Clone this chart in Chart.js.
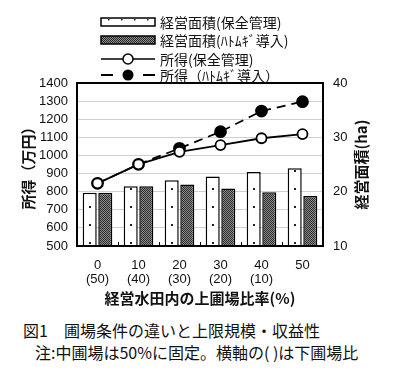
<!DOCTYPE html>
<html>
<head>
<meta charset="utf-8">
<script src="https://cdn.jsdelivr.net/npm/chart.js@4"></script>
<style>
  body { margin: 0; background: #fff; width: 400px; height: 377px; position: relative; overflow: hidden; }
  #wrap { position: absolute; left: 0; top: 0; width: 400px; height: 310px; }
  .cap { position: absolute; font-family: "Noto Sans CJK JP", sans-serif; font-size: 16px; color: #111; white-space: nowrap; line-height: 20px; }
</style>
</head>
<body>
<div id="wrap"><canvas id="myChart" width="400" height="310"></canvas></div>
<div class="cap" style="left:23px; top:320px;">図1　圃場条件の違いと上限規模・収益性</div>
<div class="cap" style="left:35px; top:342px;">注:中圃場は50%に固定。横軸の( )は下圃場比</div>
<script>
// data
const xLabels = [['0', '(50)'], ['10', '(40)'], ['20', '(30)'], ['30', '(20)'], ['40', '(10)'], ['50', '']];
const areaHozen = [19.8, 21.0, 22.1, 22.8, 23.6, 24.3];      // ha
const areaHatomugi = [19.8, 21.0, 21.3, 20.6, 19.9, 19.2];   // ha
const incomeHozen = [846, 951, 1020, 1057, 1095, 1118];      // 万円
const incomeHatomugi = [846, 951, 1039, 1131, 1245, 1297];   // 万円
const legendNames = ['経営面積(保全管理)', '経営面積(ﾊﾄﾑｷﾞ導入)', '所得(保全管理)', '所得（ﾊﾄﾑｷﾞ導入）'];

const JP = '"Noto Sans CJK JP", sans-serif';
const NUM = '"Liberation Sans", Arial, sans-serif';

// sparse dots, one column; shifted per bar so the column sits in the middle
const dotTile = document.createElement('canvas');
dotTile.width = 60; dotTile.height = 18;
(() => {
    const g = dotTile.getContext('2d');
    g.fillStyle = '#fff';
    g.fillRect(0, 0, 60, 18);
    g.fillStyle = '#222';
    g.fillRect(0, 8, 2, 2);
})();
const dotCache = {};
function dotsAt(ctx, x) {
    const k = Math.round(x);
    if (!dotCache[k]) {
        const p = ctx.createPattern(dotTile, 'repeat');
        p.setTransform(new DOMMatrix().translate(k, 0));
        dotCache[k] = p;
    }
    return dotCache[k];
}
function hatchPattern(ctx) {
    const c = document.createElement('canvas');
    c.width = 2; c.height = 2;
    const g = c.getContext('2d');
    g.fillStyle = '#8a8a8a';
    g.fillRect(0, 0, 2, 2);
    g.fillStyle = '#2e2e2e';
    g.fillRect(0, 0, 1, 1);
    g.fillRect(1, 1, 1, 1);
    return ctx.createPattern(c, 'repeat');
}

// frame, inner x ticks, right title, legend
const extras = {
    id: 'extras',
    afterDraw(chart) {
        const ctx = chart.ctx;
        const a = chart.chartArea;
        ctx.save();
        ctx.strokeStyle = '#000';
        ctx.lineWidth = 2;
        ctx.strokeRect(a.left, a.top, a.right - a.left, a.bottom - a.top);
        // small ticks between categories
        const step = (a.right - a.left) / xLabels.length;
        ctx.lineWidth = 1;
        for (let i = 1; i < xLabels.length; i++) {
            const x = Math.round(a.left + step * i) + 0.5;
            ctx.beginPath();
            ctx.moveTo(x, a.bottom);
            ctx.lineTo(x, a.bottom - 4);
            ctx.stroke();
        }
        // right axis title, reading bottom to top
        ctx.fillStyle = '#111';
        ctx.font = 'bold 15px ' + JP;
        ctx.textAlign = 'center';
        ctx.textBaseline = 'middle';
        ctx.translate(361, (a.top + a.bottom) / 2);
        ctx.rotate(-Math.PI / 2);
        ctx.fillText('経営面積(ha)', 0, 0);
        ctx.restore();

        // legend
        ctx.save();
        const x0 = 101, x1 = 155, tx = 160;
        const rows = [22, 40, 59, 75];
        ctx.lineWidth = 1.5;
        ctx.strokeStyle = '#000';
        ctx.fillStyle = '#fff';
        ctx.fillRect(x0, rows[0] - 4, x1 - x0, 8);
        ctx.fillStyle = '#222';
        for (let x = x0 + 7; x < x1 - 3; x += 13) ctx.fillRect(x, rows[0] - 3, 1.5, 1.5);
        ctx.strokeRect(x0, rows[0] - 4, x1 - x0, 8);
        ctx.fillStyle = hatch;
        ctx.fillRect(x0, rows[1] - 4, x1 - x0, 8);
        ctx.strokeRect(x0, rows[1] - 4, x1 - x0, 8);
        const mid = (x0 + x1) / 2;
        ctx.beginPath();
        ctx.moveTo(x0, rows[2]); ctx.lineTo(x1, rows[2]);
        ctx.stroke();
        ctx.beginPath();
        ctx.arc(mid, rows[2], 5, 0, Math.PI * 2);
        ctx.fillStyle = '#fff'; ctx.fill(); ctx.stroke();
        ctx.lineWidth = 2;
        ctx.beginPath();
        ctx.moveTo(x0, rows[3]); ctx.lineTo(x0 + 12, rows[3]);
        ctx.moveTo(x1 - 12, rows[3]); ctx.lineTo(x1, rows[3]);
        ctx.stroke();
        ctx.beginPath();
        ctx.arc(mid, rows[3], 5.5, 0, Math.PI * 2);
        ctx.fillStyle = '#000'; ctx.fill();
        ctx.fillStyle = '#111';
        ctx.font = '14px ' + JP;
        ctx.textAlign = 'left';
        ctx.textBaseline = 'middle';
        legendNames.forEach((t, i) => ctx.fillText(t, tx, rows[i] + 1));
        ctx.restore();
    }
};

const ctx = document.getElementById('myChart').getContext('2d');
const hatch = hatchPattern(ctx);

new Chart(ctx, {
    data: {
        labels: xLabels,
        datasets: [
            {
                type: 'line', label: legendNames[2], data: incomeHozen, yAxisID: 'y', order: 0,
                borderColor: '#000', borderWidth: 1.8, pointRadius: 5, pointBorderWidth: 1.8,
                pointBackgroundColor: '#fff', pointBorderColor: '#000', tension: 0
            },
            {
                type: 'line', label: legendNames[3], data: incomeHatomugi, yAxisID: 'y', order: 0,
                borderColor: '#000', borderWidth: 1.8, borderDash: [9, 6], pointRadius: 5.5,
                pointBackgroundColor: '#000', pointBorderColor: '#000', tension: 0
            },
            {
                type: 'bar', label: legendNames[0], data: areaHozen, yAxisID: 'y2', order: 1,
                backgroundColor: c => {
                    const xs = c.chart.scales && c.chart.scales.x;
                    if (!xs || c.dataIndex === undefined) return '#fff';
                    return dotsAt(c.chart.ctx, xs.getPixelForValue(c.dataIndex) - 8.5);
                },
                borderColor: '#000', borderWidth: 1.5,
                categoryPercentage: 0.76, barPercentage: 0.9
            },
            {
                type: 'bar', label: legendNames[1], data: areaHatomugi, yAxisID: 'y2', order: 1,
                backgroundColor: hatch, borderColor: '#000', borderWidth: 1.5,
                categoryPercentage: 0.76, barPercentage: 0.9
            }
        ]
    },
    options: {
        responsive: false,
        animation: false,
        layout: { padding: { top: 83, left: 0, right: 0, bottom: 0 } },
        plugins: { legend: { display: false }, tooltip: { enabled: false } },
        scales: {
            x: {
                grid: { display: false, drawTicks: false },
                border: { display: false },
                ticks: { color: '#111', font: { family: NUM, size: 13, lineHeight: 1.1 }, padding: 12, maxRotation: 0 },
                title: { display: true, text: '経営水田内の上圃場比率(%)', color: '#111',
                         font: { family: JP, size: 15, weight: 'bold' }, padding: { top: 0, bottom: 3 } },
                afterFit(s) { s.height = 64; }
            },
            y: {
                position: 'left', min: 500, max: 1400,
                ticks: { stepSize: 100, autoSkip: false, color: '#111', font: { family: NUM, size: 13 }, padding: 9,
                         callback: v => String(v) },
                grid: { color: '#cfcfcf', lineWidth: 1, drawTicks: false },
                border: { display: false },
                title: { display: true, text: '所得（万円）', color: '#111',
                         font: { family: JP, size: 15, weight: 'bold' }, padding: { top: 19, bottom: 0 } },
                afterFit(s) { s.width = 77; }
            },
            y2: {
                position: 'right', min: 10, max: 40,
                ticks: { stepSize: 10, autoSkip: false, color: '#111', font: { family: NUM, size: 13 }, padding: 10 },
                grid: { drawOnChartArea: false, drawTicks: false },
                border: { display: false },
                afterFit(s) { s.width = 77; }
            }
        }
    },
    plugins: [extras]
});
</script>
</body>
</html>
